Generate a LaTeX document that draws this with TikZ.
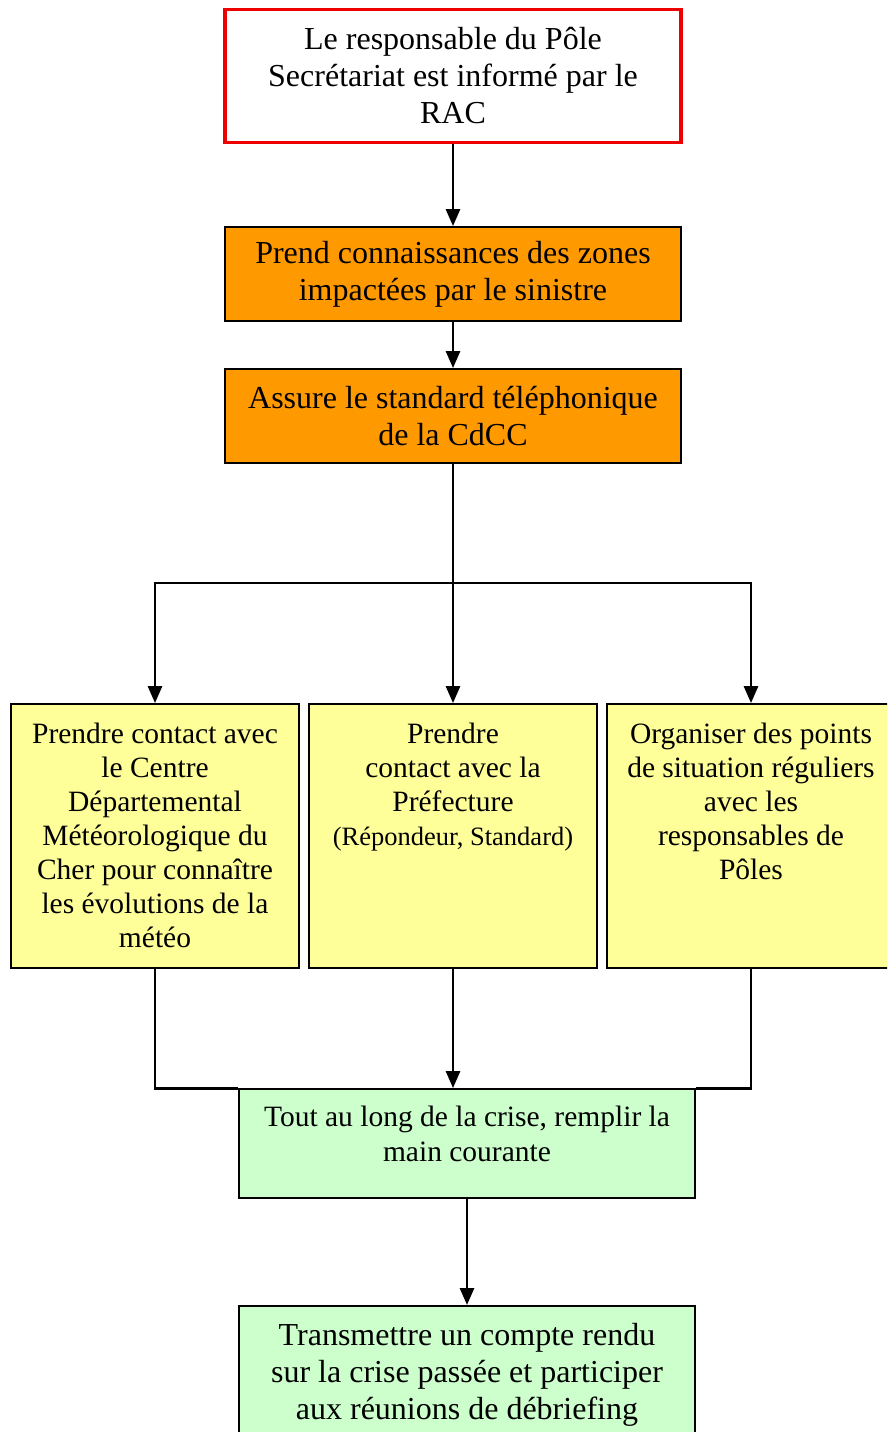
\documentclass[tikz,border=0pt]{standalone}
\usepackage{fontspec}
\setmainfont{Liberation Serif}
\usetikzlibrary{arrows.meta}
\definecolor{orangebox}{HTML}{FF9900}
\definecolor{yellowbox}{HTML}{FFFF99}
\definecolor{greenbox}{HTML}{CCFFCC}
\definecolor{redline}{HTML}{EE0000}
\tikzset{
  box/.style={draw=black, line width=1.8pt, inner sep=0pt, align=center, font=\fontsize{32}{37}\selectfont},
  redbox/.style={box, draw=redline, line width=3.8pt, fill=white, minimum width=456pt, minimum height=133pt},
  orbox/.style={box, fill=orangebox, minimum width=456pt, minimum height=94pt},
  ybox/.style={box, fill=yellowbox, minimum width=288pt, minimum height=264pt, font=\fontsize{29.5}{34}\selectfont},
  gbox/.style={box, fill=greenbox, minimum width=456pt},
  arr/.style={line width=2.8pt, -{Triangle[length=17pt,width=14pt]}},
  ln/.style={line width=2.8pt},
}
\newcommand{\toptext}[4]{\parbox[t][#2][t]{#1}{\centering\vspace{#3}#4}}
\begin{document}
\begin{tikzpicture}[x=1pt,y=-1pt]
\clip (0,0) rectangle (887,1432);
\fill[white] (0,0) rectangle (887,1432);
\node[redbox] (b1) at (453,76) {Le responsable du Pôle\\Secrétariat est informé par le\\RAC};
\node[orbox] (b2) at (453,274) {Prend connaissances des zones\\impactées par le sinistre};
\node[orbox] (b3) at (453,416) {Assure le standard téléphonique\\de la CdCC};
\node[ybox] (y1) at (155,836) {\toptext{284pt}{260pt}{17pt}{Prendre contact avec\\le Centre\\Départemental\\Météorologique du\\Cher pour connaître\\les évolutions de la\\météo}};
\node[ybox] (y2) at (453,836) {\toptext{284pt}{260pt}{17pt}{Prendre\\contact avec la\\Préfecture\\{\fontsize{26.5}{33}\selectfont(Répondeur, Standard)}}};
\node[ybox] (y3) at (751,836) {\toptext{284pt}{260pt}{17pt}{Organiser des points\\de situation réguliers\\avec les\\responsables de\\Pôles}};
\node[gbox, minimum height=109pt, font=\fontsize{29.5}{35}\selectfont] (g1) at (467,1143.5) {\toptext{450pt}{105pt}{15pt}{Tout au long de la crise, remplir la\\main courante}};
\node[gbox, minimum height=150pt, anchor=north] (g2) at (467,1305) {\toptext{450pt}{146pt}{15pt}{Transmettre un compte rendu\\sur la crise passée et participer\\aux réunions de débriefing}};
\coordinate (split) at (453,583);
\draw[arr] (b1.south) -- (b2.north);
\draw[arr] (b2.south) -- (b3.north);
\draw[ln] (b3.south) -- (split);
\draw[arr] (split) -- (y2.north);
\draw[arr] (split) -| (y1.north);
\draw[arr] (split) -| (y3.north);
\draw[ln] (y1.south) |- (g1.north west);
\draw[ln] (y3.south) |- (g1.north east);
\draw[arr] (y2.south) -- (y2.south |- g1.north);
\draw[arr] (g1.south) -- (g2.north);
\end{tikzpicture}
\end{document}
